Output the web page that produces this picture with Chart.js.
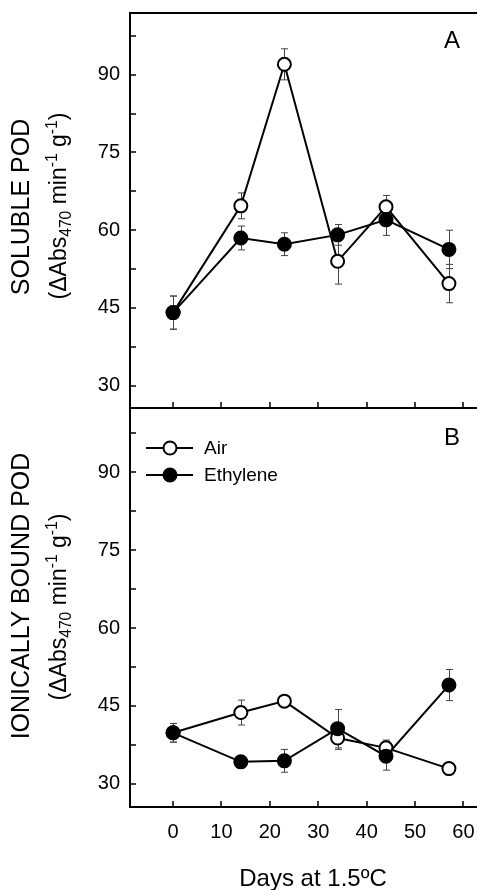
<!DOCTYPE html>
<html>
<head>
<meta charset="utf-8">
<script src="https://cdn.jsdelivr.net/npm/chart.js@4"></script>
<style>
body { margin: 0; background: #fff; }
#wrap { position: relative; width: 477px; height: 890px; overflow: hidden; font-family: "Liberation Sans", Arial, sans-serif; color: #000; }
canvas { position: absolute; left: 0; }
.rot { position: absolute; transform: translate(-50%, -50%) rotate(-90deg); white-space: nowrap; line-height: 1; }
.big { font-size: 25px; }
.small { font-size: 23px; }
sub, sup { font-size: 0.68em; line-height: 0; }
#xtitle { position: absolute; transform: translate(-50%, -50%); font-size: 24px; white-space: nowrap; line-height: 1; }
</style>
</head>
<body>
<div id="wrap">
  <canvas id="top" width="477" height="410" style="top:0"></canvas>
  <canvas id="bottom" width="477" height="490" style="top:400px"></canvas>
  <div class="rot big" style="left:20px; top:207px">SOLUBLE POD</div>
  <div class="rot small" style="left:58px; top:206px">(&Delta;Abs<sub>470</sub> min<sup>-1</sup> g<sup>-1</sup>)</div>
  <div class="rot big" style="left:20px; top:596px">IONICALLY BOUND POD</div>
  <div class="rot small" style="left:58px; top:607px">(&Delta;Abs<sub>470</sub> min<sup>-1</sup> g<sup>-1</sup>)</div>
  <div id="xtitle" style="left:313px; top:878px">Days at 1.5ºC</div>
</div>
<script>
// days of storage at 1.5 C
const days = [0, 14, 23, 34, 44, 57];
const seriesNames = ["Air", "Ethylene"];

// panel A: soluble POD
const solubleAir = [44.1, 64.7, 92.0, 54.0, 64.5, 49.7];
const solubleAirErr = [3.2, 2.5, 3.0, 4.4, 2.2, 3.7];
const solubleEth = [44.1, 58.5, 57.3, 59.1, 62.0, 56.3];
const solubleEthErr = [3.2, 2.3, 2.2, 2.0, 3.0, 3.7];

// panel B: ionically bound POD
const boundAir = [39.8, 43.7, 45.9, 38.8, 36.9, 32.9];
const boundAirErr = [1.8, 2.4, 0.6, 2.2, 1.5, 1.0];
const boundEth = [39.8, 34.2, 34.4, 40.6, 35.3, 49.0];
const boundEthErr = [1.8, 0.6, 2.2, 3.7, 2.7, 3.0];

const fontFamily = "'Liberation Sans', Arial, sans-serif";

let toPoints = (vals) => days.map((d, i) => ({ x: d, y: vals[i] }));

let makeDatasets = (air, airErr, eth, ethErr) => [
	{
		label: seriesNames[0],
		data: toPoints(air),
		errors: airErr,
		borderColor: "#000",
		borderWidth: 2,
		pointRadius: 6.5,
		pointBorderWidth: 2,
		pointBackgroundColor: "#fff",
		pointBorderColor: "#000",
		order: 1,
	},
	{
		label: seriesNames[1],
		data: toPoints(eth),
		errors: ethErr,
		borderColor: "#000",
		borderWidth: 2,
		pointRadius: 6.5,
		pointBorderWidth: 2,
		pointBackgroundColor: "#000",
		pointBorderColor: "#000",
		order: 0,
	},
];

// axes, inward ticks, error bars, panel letter and legend
const frame = {
	id: "frame",
	beforeDatasetsDraw(chart) {
		const ctx = chart.ctx;
		const xs = chart.scales.x, ys = chart.scales.y;
		ctx.save();
		ctx.strokeStyle = "#444";
		ctx.lineWidth = 1;
		chart.data.datasets.forEach((ds) => {
			ds.data.forEach((p, i) => {
				const px = Math.round(xs.getPixelForValue(p.x)) + 0.5;
				const hi = ys.getPixelForValue(p.y + ds.errors[i]);
				const lo = ys.getPixelForValue(p.y - ds.errors[i]);
				ctx.beginPath();
				ctx.moveTo(px, hi); ctx.lineTo(px, lo);
				ctx.moveTo(px - 3.5, hi); ctx.lineTo(px + 3.5, hi);
				ctx.moveTo(px - 3.5, lo); ctx.lineTo(px + 3.5, lo);
				ctx.stroke();
			});
		});
		ctx.restore();
	},
	afterDraw(chart, args, opts) {
		const ctx = chart.ctx;
		const a = chart.chartArea;
		const xs = chart.scales.x, ys = chart.scales.y;
		ctx.save();
		ctx.strokeStyle = "#000";
		ctx.lineWidth = 2;
		ctx.beginPath();
		ctx.moveTo(a.left, a.top); ctx.lineTo(a.left, a.bottom);
		ctx.moveTo(a.left - 1, a.bottom); ctx.lineTo(a.right, a.bottom);
		if (opts.topLine) {
			ctx.moveTo(a.left - 1, a.top); ctx.lineTo(a.right, a.top);
		}
		ctx.stroke();
		ctx.lineWidth = 1.5;
		ctx.beginPath();
		ys.ticks.forEach((t) => {
			const py = Math.round(ys.getPixelForValue(t.value));
			ctx.moveTo(a.left, py); ctx.lineTo(a.left + 6, py);
		});
		xs.ticks.forEach((t) => {
			const px = Math.round(xs.getPixelForValue(t.value));
			ctx.moveTo(px, a.bottom); ctx.lineTo(px, a.bottom - 6);
		});
		ctx.stroke();

		ctx.fillStyle = "#000";
		ctx.font = "24px " + fontFamily;
		ctx.textAlign = "center";
		ctx.textBaseline = "middle";
		ctx.fillText(opts.label, 452, a.top + opts.labelY);

		if (opts.legend) {
			ctx.font = "19px " + fontFamily;
			ctx.textAlign = "left";
			chart.data.datasets.forEach((ds, i) => {
				const ly = a.top + 40 + i * 27;
				ctx.lineWidth = 2;
				ctx.beginPath();
				ctx.moveTo(146, ly); ctx.lineTo(193, ly);
				ctx.stroke();
				ctx.beginPath();
				ctx.arc(170, ly, 6.5, 0, Math.PI * 2);
				ctx.fillStyle = ds.pointBackgroundColor;
				ctx.fill();
				ctx.stroke();
				ctx.fillStyle = "#000";
				ctx.fillText(ds.label, 204, ly + 1);
			});
		}
		ctx.restore();
	},
};

let makeOptions = (yMin, yMax, showX, padding, frameOpts) => ({
	responsive: false,
	animation: false,
	layout: { padding: padding, autoPadding: false },
	plugins: {
		legend: { display: false },
		tooltip: { enabled: false },
		frame: frameOpts,
	},
	scales: {
		x: {
			type: "linear",
			min: -8.9,
			max: 62.8,
			grid: { display: false, drawTicks: false },
			border: { display: false },
			ticks: {
				display: showX,
				stepSize: 10,
				includeBounds: false,
				autoSkip: false,
				maxRotation: 0,
				color: "#000",
				padding: 13,
				font: { family: fontFamily, size: 20 },
			},
			afterFit: (s) => {
				s.height = showX ? 83 : 0;
				s.paddingLeft = 0;
				s.paddingRight = 0;
			},
		},
		y: {
			min: yMin,
			max: yMax,
			grid: { display: false, drawTicks: false },
			border: { display: false },
			ticks: {
				stepSize: 7.5,
				includeBounds: false,
				autoSkip: false,
				color: "#000",
				padding: 10,
				font: { family: fontFamily, size: 20 },
				callback: (v) => (v % 15 === 0 ? v : ""),
			},
			afterFit: (s) => {
				s.width = 130;
				s.paddingTop = 0;
				s.paddingBottom = 0;
			},
		},
	},
});

new Chart(document.getElementById("top"), {
	type: "line",
	data: { datasets: makeDatasets(solubleAir, solubleAirErr, solubleEth, solubleEthErr) },
	options: makeOptions(25.7, 101.9, false, { top: 13, bottom: 2, left: 0, right: 0 },
		{ topLine: true, label: "A", labelY: 28, legend: false }),
	plugins: [frame],
});

new Chart(document.getElementById("bottom"), {
	type: "line",
	data: { datasets: makeDatasets(boundAir, boundAirErr, boundEth, boundEthErr) },
	options: makeOptions(25.5, 102.4, true, { top: 8, bottom: 0, left: 0, right: 0 },
		{ topLine: false, label: "B", labelY: 30, legend: true }),
	plugins: [frame],
});
</script>
</body>
</html>
